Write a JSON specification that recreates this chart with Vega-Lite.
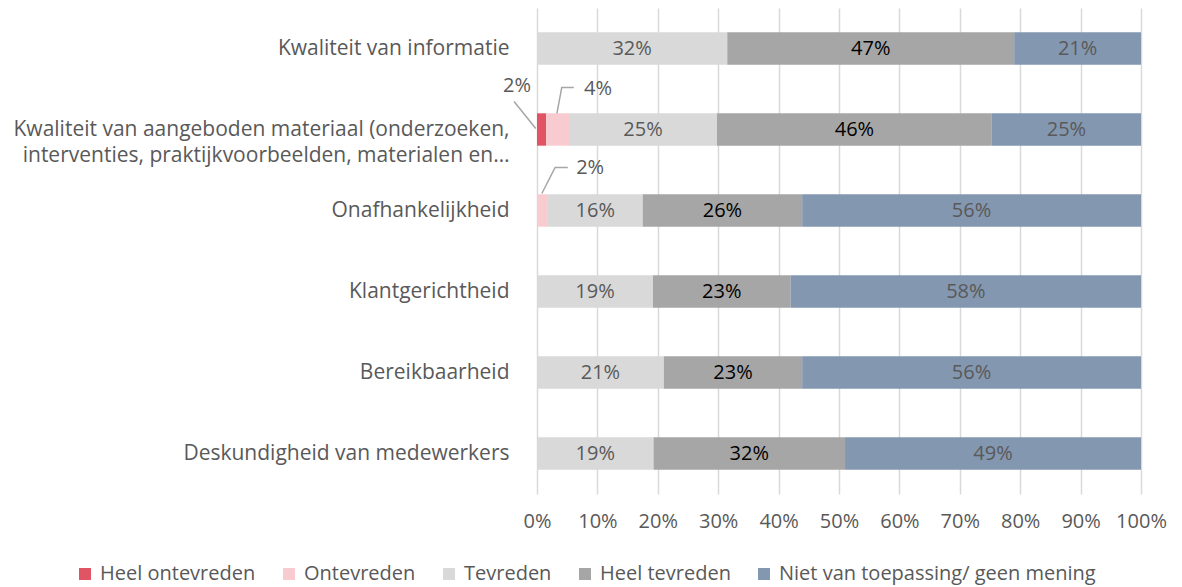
{
  "$schema": "https://vega.github.io/schema/vega-lite/v6.json",
  "width": 604,
  "height": 486,
  "autosize": "none",
  "padding": {"left": 537, "top": 8, "right": 41, "bottom": 93},
  "config": {
    "view": {"stroke": null},
    "font": "Open Sans",
    "text": {"font": "Open Sans"}
  },
  "datasets": {
    "bars": [
      {"cat": "Kwaliteit van informatie", "resp": "Tevreden", "o": 3, "v": 31.5, "label": "32%"},
      {"cat": "Kwaliteit van informatie", "resp": "Heel tevreden", "o": 4, "v": 47.5, "label": "47%"},
      {"cat": "Kwaliteit van informatie", "resp": "Niet van toepassing/ geen mening", "o": 5, "v": 21, "label": "21%"},
      {"cat": "Kwaliteit van aangeboden materiaal (onderzoeken,|interventies, praktijkvoorbeelden, materialen en…", "resp": "Heel ontevreden", "o": 1, "v": 1.5, "label": "2%"},
      {"cat": "Kwaliteit van aangeboden materiaal (onderzoeken,|interventies, praktijkvoorbeelden, materialen en…", "resp": "Ontevreden", "o": 2, "v": 3.8, "label": "4%"},
      {"cat": "Kwaliteit van aangeboden materiaal (onderzoeken,|interventies, praktijkvoorbeelden, materialen en…", "resp": "Tevreden", "o": 3, "v": 24.5, "label": "25%"},
      {"cat": "Kwaliteit van aangeboden materiaal (onderzoeken,|interventies, praktijkvoorbeelden, materialen en…", "resp": "Heel tevreden", "o": 4, "v": 45.5, "label": "46%"},
      {"cat": "Kwaliteit van aangeboden materiaal (onderzoeken,|interventies, praktijkvoorbeelden, materialen en…", "resp": "Niet van toepassing/ geen mening", "o": 5, "v": 24.7, "label": "25%"},
      {"cat": "Onafhankelijkheid", "resp": "Ontevreden", "o": 2, "v": 1.8, "label": "2%"},
      {"cat": "Onafhankelijkheid", "resp": "Tevreden", "o": 3, "v": 15.7, "label": "16%"},
      {"cat": "Onafhankelijkheid", "resp": "Heel tevreden", "o": 4, "v": 26.4, "label": "26%"},
      {"cat": "Onafhankelijkheid", "resp": "Niet van toepassing/ geen mening", "o": 5, "v": 56.1, "label": "56%"},
      {"cat": "Klantgerichtheid", "resp": "Tevreden", "o": 3, "v": 19.2, "label": "19%"},
      {"cat": "Klantgerichtheid", "resp": "Heel tevreden", "o": 4, "v": 22.8, "label": "23%"},
      {"cat": "Klantgerichtheid", "resp": "Niet van toepassing/ geen mening", "o": 5, "v": 58, "label": "58%"},
      {"cat": "Bereikbaarheid", "resp": "Tevreden", "o": 3, "v": 21, "label": "21%"},
      {"cat": "Bereikbaarheid", "resp": "Heel tevreden", "o": 4, "v": 22.9, "label": "23%"},
      {"cat": "Bereikbaarheid", "resp": "Niet van toepassing/ geen mening", "o": 5, "v": 56.1, "label": "56%"},
      {"cat": "Deskundigheid van medewerkers", "resp": "Tevreden", "o": 3, "v": 19.3, "label": "19%"},
      {"cat": "Deskundigheid van medewerkers", "resp": "Heel tevreden", "o": 4, "v": 31.7, "label": "32%"},
      {"cat": "Deskundigheid van medewerkers", "resp": "Niet van toepassing/ geen mening", "o": 5, "v": 49, "label": "49%"}
    ],
    "leaders": [
      {"id": "a", "k": 1, "x": -3.8, "y": 1.154},
      {"id": "a", "k": 2, "x": -0.2, "y": 1.488},
      {"id": "b", "k": 1, "x": 6.1, "y": 0.981},
      {"id": "b", "k": 2, "x": 4.1, "y": 0.981},
      {"id": "b", "k": 3, "x": 3.3, "y": 1.302},
      {"id": "c", "k": 1, "x": 5.1, "y": 1.969},
      {"id": "c", "k": 2, "x": 3.0, "y": 1.969},
      {"id": "c", "k": 3, "x": 0.8, "y": 2.29}
    ],
    "callouts": [
      {"x": -3.3, "y": 0.957, "label": "2%"},
      {"x": 10.1, "y": 0.994, "label": "4%"},
      {"x": 8.8, "y": 1.98, "label": "2%"}
    ]
  },
  "layer": [
    {
      "data": {"name": "bars"},
      "transform": [
        {"stack": "v", "groupby": ["cat"], "sort": [{"field": "o"}], "as": ["v0", "v1"]},
        {"calculate": "(datum.v0 + datum.v1) / 2", "as": "mid"}
      ],
      "encoding": {
        "y": {
          "field": "cat",
          "type": "nominal",
          "sort": null,
          "scale": {"paddingInner": 0.6, "paddingOuter": 0.3},
          "axis": {
            "title": null,
            "labelExpr": "split(datum.value, '|')",
            "labelFontSize": 21,
            "labelColor": "#595959",
            "labelPadding": 28,
            "labelLineHeight": 26,
            "labelLimit": 600,
            "ticks": false,
            "domain": false
          }
        }
      },
      "layer": [
        {
          "mark": {"type": "bar"},
          "encoding": {
            "x": {
              "field": "v0",
              "type": "quantitative",
              "scale": {"domain": [0, 100], "nice": false},
              "axis": {
                "title": null,
                "values": [0, 10, 20, 30, 40, 50, 60, 70, 80, 90, 100],
                "labelExpr": "datum.value + '%'",
                "labelOverlap": false,
                "labelFlush": false,
                "labelFontSize": 20,
                "labelColor": "#595959",
                "labelPadding": 17,
                "ticks": false,
                "domain": false,
                "grid": true,
                "gridColor": "#d9d9d9",
                "gridWidth": 1.5
              }
            },
            "x2": {"field": "v1"},
            "color": {
              "field": "resp",
              "type": "nominal",
              "scale": {
                "domain": ["Heel ontevreden", "Ontevreden", "Tevreden", "Heel tevreden", "Niet van toepassing/ geen mening"],
                "range": ["#e15464", "#f7cbcf", "#d9d9d9", "#a6a6a6", "#8497b0"]
              },
              "legend": {
                "title": null,
                "orient": "none",
                "direction": "horizontal",
                "legendX": -462,
                "legendY": 556,
                "symbolType": "square",
                "symbolSize": 144,
                "symbolStrokeWidth": 0,
                "symbolOpacity": 1,
                "labelFontSize": 20,
                "labelColor": "#595959",
                "labelOffset": 5,
                "columnPadding": 23,
                "labelLimit": 400
              }
            },
            "order": {"field": "o"}
          }
        },
        {
          "transform": [{"filter": "datum.v >= 5"}],
          "mark": {"type": "text", "fontSize": 20, "baseline": "middle"},
          "encoding": {
            "x": {"field": "mid", "type": "quantitative"},
            "text": {"field": "label"},
            "color": {
              "condition": {"test": "datum.resp == 'Heel tevreden'", "value": "#000000"},
              "value": "#595959"
            }
          }
        }
      ]
    },
    {
      "data": {"name": "leaders"},
      "mark": {"type": "line", "color": "#a6a6a6", "strokeWidth": 1.5, "clip": false},
      "encoding": {
        "x": {"field": "x", "type": "quantitative"},
        "y": {"field": "y", "type": "quantitative", "scale": {"domain": [0, 6], "reverse": true, "nice": false, "zero": false}, "axis": null},
        "detail": {"field": "id"},
        "order": {"field": "k"}
      }
    },
    {
      "data": {"name": "callouts"},
      "mark": {"type": "text", "fontSize": 20, "color": "#595959", "baseline": "middle", "clip": false},
      "encoding": {
        "x": {"field": "x", "type": "quantitative"},
        "y": {"field": "y", "type": "quantitative", "scale": {"domain": [0, 6], "reverse": true, "nice": false, "zero": false}, "axis": null},
        "text": {"field": "label"}
      }
    }
  ],
  "resolve": {"scale": {"y": "independent"}, "axis": {"y": "independent"}}
}
